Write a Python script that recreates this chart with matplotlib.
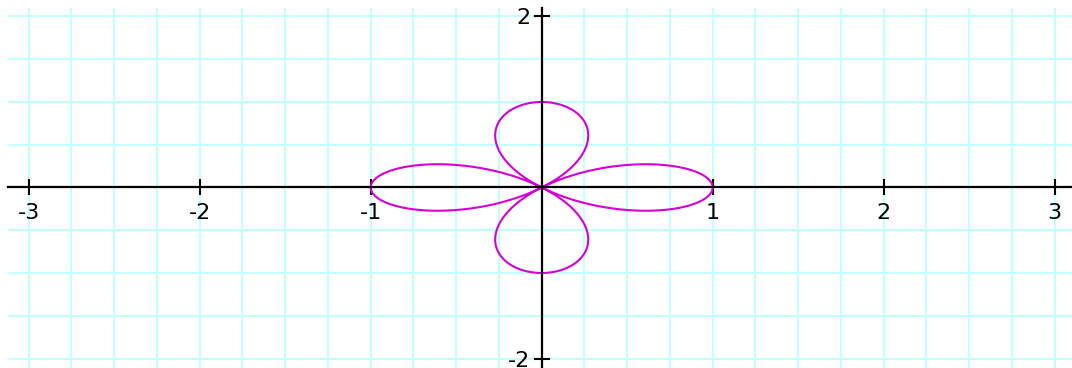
import numpy as np
import matplotlib
matplotlib.use("Agg")
import matplotlib.pyplot as plt
from matplotlib.ticker import MultipleLocator, FixedLocator

# Curve: four-leaved rose r = a*cos(k*theta)
rose_amplitude = 1.0
rose_k = 2
x_tick_values = [-3, -2, -1, 1, 2, 3]
x_tick_labels = ["-3", "-2", "-1", "1", "2", "3"]
y_tick_values = [-2, 2]
y_tick_labels = ["-2", "2"]

plt.rcParams["axes.unicode_minus"] = False
plt.rcParams["font.family"] = ["DejaVu Sans"]

W, H = 1072, 368
fig = plt.figure(figsize=(W / 100, H / 100), dpi=100)
ax = fig.add_axes([8 / W, 0, (W - 8) / W, (H - 8) / H])

theta = np.linspace(0, 2 * np.pi, 2001)
r = rose_amplitude * np.cos(rose_k * theta)
ax.plot(r * np.cos(theta), r * np.sin(theta), color="#d600d6", lw=1.5, zorder=3)

ax.set_xlim(-3.121, 3.101)
ax.set_ylim(-2.111, 2.099)

for s in ["top", "right"]:
    ax.spines[s].set_visible(False)
ax.spines["left"].set_position(("data", 0))
ax.spines["bottom"].set_position(("data", 0))
for s in ["left", "bottom"]:
    ax.spines[s].set_linewidth(1.6)
    ax.spines[s].set_color("black")
    ax.spines[s].set_zorder(4)

ax.xaxis.set_major_locator(FixedLocator(x_tick_values))
ax.set_xticklabels(x_tick_labels)
ax.yaxis.set_major_locator(FixedLocator(y_tick_values))
ax.set_yticklabels(y_tick_labels)
ax.xaxis.set_minor_locator(MultipleLocator(0.25))
ax.yaxis.set_minor_locator(MultipleLocator(0.5))

ax.tick_params(which="major", direction="inout", length=12, width=1.5,
               color="black", labelsize=16, labelcolor="black")
ax.tick_params(axis="x", which="major", pad=5)
ax.tick_params(axis="y", which="major", pad=2)
ax.tick_params(which="minor", length=0)

ax.set_axisbelow(True)
ax.grid(which="both", color="#c4ffff", lw=1.5)

fig.savefig("out.png", dpi=100, facecolor="white")
